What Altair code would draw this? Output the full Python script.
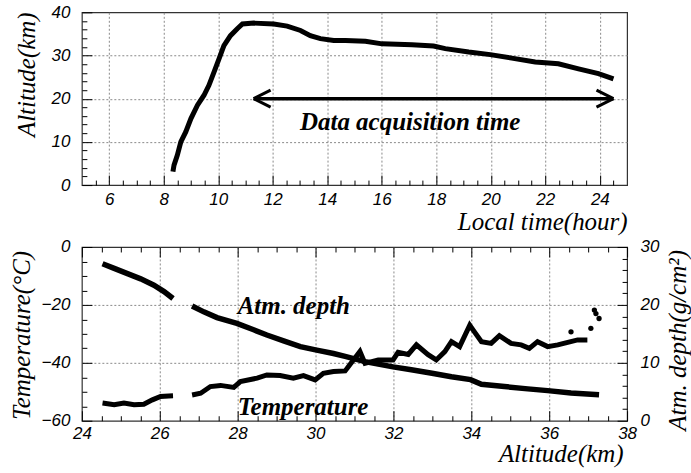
import altair as alt
import pandas as pd

# ---------------- data ----------------
# Upper panel: balloon altitude vs local time
time_hour = [8.34, 8.38, 8.50, 8.63, 8.81, 9.00, 9.24, 9.48, 9.66, 9.85, 10.03, 10.21,
             10.45, 10.70, 10.89, 11.31, 12.04, 12.53, 13.02, 13.38, 13.75, 14.24, 14.67,
             15.40, 16.01, 17.11, 17.90, 18.33, 19.19, 19.98, 20.77, 21.63, 22.48, 23.22,
             23.95, 24.50]
altitude_km = [3.1, 4.6, 6.9, 10.0, 12.3, 15.4, 18.5, 20.8, 23.1, 26.2, 29.2, 32.3,
               34.6, 36.2, 37.3, 37.5, 37.3, 36.8, 35.8, 34.6, 33.9, 33.5, 33.5,
               33.3, 32.7, 32.5, 32.2, 31.6, 30.8, 30.2, 29.4, 28.5, 28.1, 26.9,
               25.8, 24.6]

# Lower panel: atmospheric depth vs altitude
depth_altitude = [24.53, 24.83, 25.17, 25.51, 25.85, 26.11, 26.34,
                  26.83, 27.13, 27.47, 27.98, 28.41, 28.75, 29.18, 29.61, 30.03, 30.46,
                  30.76, 31.27, 31.99, 32.46, 32.99, 33.49, 33.98, 34.26, 34.85, 35.45,
                  35.96, 36.56, 37.28]
depth_gcm2 = [27.1, 26.3, 25.4, 24.5, 23.4, 22.3, 21.1,
              19.8, 18.8, 17.8, 16.8, 15.7, 14.8, 13.8, 12.8, 12.2, 11.6,
              11.1, 10.2, 9.3, 8.8, 8.2, 7.6, 7.1, 6.3, 5.9, 5.5,
              5.2, 4.8, 4.5]
depth_segment = [1, 1, 1, 1, 1, 1, 1,
                 2, 2, 2, 2, 2, 2, 2, 2, 2, 2,
                 2, 2, 2, 2, 2, 2, 2, 2, 2, 2,
                 2, 2, 2]

# Lower panel: temperature vs altitude (continuous parts)
temp_altitude = [24.53, 24.83, 25.08, 25.34, 25.59, 25.81, 26.02, 26.34,
                 26.83, 27.05, 27.30, 27.56, 27.90, 28.07, 28.50, 28.75, 29.09, 29.43,
                 29.69, 29.99, 30.20, 30.46, 30.76, 30.88, 31.14, 31.27, 31.61, 31.99,
                 32.12, 32.38, 32.59, 32.89, 33.10, 33.32, 33.49, 33.70, 33.96, 34.08,
                 34.26, 34.51, 34.72, 35.02, 35.28, 35.49, 35.70, 35.96, 36.22, 36.45,
                 36.73, 36.98]
temp_celsius = [-53.9, -54.5, -53.9, -54.5, -54.3, -52.8, -51.6, -51.4,
                -51.1, -50.5, -48.2, -47.8, -48.5, -46.5, -45.3, -44.2, -44.4, -45.3,
                -44.4, -45.9, -43.6, -43.0, -42.8, -40.7, -36.1, -40.2, -39.0, -39.0,
                -36.4, -37.1, -33.8, -37.2, -39.0, -36.1, -32.7, -34.4, -27.0, -29.3,
                -32.7, -33.3, -30.6, -33.3, -33.8, -35.0, -32.7, -34.4, -33.8, -33.0,
                -32.1, -32.1]
temp_segment = [1, 1, 1, 1, 1, 1, 1, 1,
                2, 2, 2, 2, 2, 2, 2, 2, 2, 2,
                2, 2, 2, 2, 2, 2, 2, 2, 2, 2,
                2, 2, 2, 2, 2, 2, 2, 2, 2, 2,
                2, 2, 2, 2, 2, 2, 2, 2, 2, 2,
                2, 2]
# isolated temperature points near the top
temp_dot_altitude = [36.56, 37.07, 37.16, 37.20, 37.28]
temp_dot_celsius = [-29.3, -28.1, -21.8, -23.0, -24.7]

# Tick values
top_x_major = [6, 8, 10, 12, 14, 16, 18, 20, 22, 24]
top_x_minor = [5.5, 6.5, 7, 7.5, 8.5, 9, 9.5, 10.5, 11, 11.5, 12.5, 13, 13.5, 14.5, 15,
               15.5, 16.5, 17, 17.5, 18.5, 19, 19.5, 20.5, 21, 21.5, 22.5, 23, 23.5, 24.5]
top_y_major = [0, 10, 20, 30, 40]
top_y_minor = [2, 4, 6, 8, 12, 14, 16, 18, 22, 24, 26, 28, 32, 34, 36, 38]
top_x_grid = [6, 8, 10, 12, 14, 16, 18, 20, 22, 24]
top_y_grid = [10, 20, 30]

bot_x_major = [24, 26, 28, 30, 32, 34, 36, 38]
bot_x_minor = [24.5, 25, 25.5, 26.5, 27, 27.5, 28.5, 29, 29.5, 30.5, 31, 31.5, 32.5, 33,
               33.5, 34.5, 35, 35.5, 36.5, 37, 37.5]
bot_x_grid = [26, 28, 30, 32, 34, 36]
temp_major = [-60, -40, -20, 0]
temp_minor = [-55, -50, -45, -35, -30, -25, -15, -10, -5]
temp_grid = [-40, -20]
depth_major = [0, 10, 20, 30]
depth_minor = [2, 4, 6, 8, 12, 14, 16, 18, 22, 24, 26, 28]

# Annotations
arrow_start_hour = [11.3]
arrow_end_hour = [24.5]
arrow_alt = [20]
top_label_text = ["Data acquisition time"]
top_label_hour = [13.0]
top_label_alt = [12.8]
bot_label_text = ["Atm. depth", "Temperature"]
bot_label_altitude = [28.0, 28.0]
bot_label_temp = [-23.1, -57.9]

# ---------------- styling ----------------
LF = "Liberation Sans"
TF = "Liberation Serif"
W, H1, H2 = 546, 173, 174
GRID = "#8a8a8a"

label_style = dict(labelFont=LF, labelFontSize=17, labelFontStyle="italic",
                   labelColor="black", labelFlush=False, labelOverlap=False)
title_style = dict(titleFont=TF, titleFontSize=25, titleFontStyle="italic",
                   titleFontWeight="normal", titleColor="black")


def tick_axis(orient, values, size):
    return alt.Axis(orient=orient, values=values, tickSize=size, offset=-size,
                    labels=False, domain=False, grid=False, title=None, ticks=True,
                    tickColor="black", tickWidth=1)


def grid_axis(orient, values):
    return alt.Axis(orient=orient, values=values, ticks=False, labels=False,
                    domain=False, grid=True, title=None, gridColor=GRID,
                    gridDash=[2, 2], gridWidth=1)


# ---------------- upper panel ----------------
top_df = pd.DataFrame({"hour": time_hour, "alt": altitude_km})
xs_top = alt.Scale(domain=[5, 25], nice=False, zero=False)
ys_top = alt.Scale(domain=[0, 40], nice=False, zero=False)

top_grid = alt.Chart(top_df).mark_line(strokeOpacity=0).encode(
    x=alt.X("hour:Q", scale=xs_top, axis=grid_axis("bottom", top_x_grid)),
    y=alt.Y("alt:Q", scale=ys_top, axis=grid_axis("left", top_y_grid)),
)
top_minor = alt.Chart(top_df).mark_line(strokeOpacity=0).encode(
    x=alt.X("hour:Q", scale=xs_top, axis=tick_axis("bottom", top_x_minor, 5)),
    y=alt.Y("alt:Q", scale=ys_top, axis=tick_axis("left", top_y_minor, 5)),
)
top_line = alt.Chart(top_df).mark_line(color="black", strokeWidth=5).encode(
    x=alt.X("hour:Q", scale=xs_top, axis=alt.Axis(
        orient="bottom", values=top_x_major, tickSize=10, offset=-10, domain=False,
        grid=False, tickColor="black", labelPadding=6, **label_style,
        title="Local time(hour)", titleAlign="right", titleBaseline="alphabetic",
        titleX=W, titleY=54, **title_style)),
    y=alt.Y("alt:Q", scale=ys_top, axis=alt.Axis(
        orient="left", values=top_y_major, tickSize=10, offset=-10, domain=False,
        grid=False, tickColor="black", labelPadding=12, **label_style,
        title="Altitude(km)", titleAngle=270, titleAlign="center",
        titleBaseline="alphabetic", titleX=-57, titleY=62, **title_style)),
)
arrow_df = pd.DataFrame({"x1": arrow_start_hour, "x2": arrow_end_hour, "y": arrow_alt})
arrow_line = alt.Chart(arrow_df).mark_rule(color="black", strokeWidth=3.5).encode(
    x=alt.X("x1:Q", scale=xs_top, axis=None), x2="x2:Q",
    y=alt.Y("y:Q", scale=ys_top, axis=None),
)
head_left = alt.Chart(arrow_df).mark_point(
    shape="M0,0L1,-0.5M0,0L1,0.5", size=1156, filled=False, color="black",
    strokeWidth=3, opacity=1).encode(
    x=alt.X("x1:Q", scale=xs_top, axis=None), y=alt.Y("y:Q", scale=ys_top, axis=None))
head_right = alt.Chart(arrow_df).mark_point(
    shape="M0,0L-1,-0.5M0,0L-1,0.5", size=1156, filled=False, color="black",
    strokeWidth=3, opacity=1).encode(
    x=alt.X("x2:Q", scale=xs_top, axis=None), y=alt.Y("y:Q", scale=ys_top, axis=None))
top_text_df = pd.DataFrame({"x": top_label_hour, "y": top_label_alt, "t": top_label_text})
top_text = alt.Chart(top_text_df).mark_text(
    font=TF, fontSize=25, fontStyle="italic", fontWeight="bold", color="black",
    align="left", baseline="alphabetic").encode(
    x=alt.X("x:Q", scale=xs_top, axis=None), y=alt.Y("y:Q", scale=ys_top, axis=None),
    text="t:N")

top = alt.layer(top_grid, top_minor, top_line, arrow_line, head_left, head_right,
                top_text).resolve_axis(x="independent", y="independent").properties(
    width=W, height=H1)

# ---------------- lower panel ----------------
temp_df = pd.DataFrame({"a": temp_altitude, "T": temp_celsius, "seg": temp_segment})
dots_df = pd.DataFrame({"a": temp_dot_altitude, "T": temp_dot_celsius})
depth_df = pd.DataFrame({"a": depth_altitude, "d": depth_gcm2, "seg": depth_segment})
xs_bot = alt.Scale(domain=[24, 38], nice=False, zero=False)
ys_temp = alt.Scale(domain=[-60, 0], nice=False, zero=False)
ys_depth = alt.Scale(domain=[0, 30], nice=False, zero=False)

bot_grid = alt.Chart(temp_df).mark_line(strokeOpacity=0).encode(
    x=alt.X("a:Q", scale=xs_bot, axis=grid_axis("bottom", bot_x_grid)),
    y=alt.Y("T:Q", scale=ys_temp, axis=grid_axis("left", temp_grid)),
)
temp_minor = alt.Chart(temp_df).mark_line(strokeOpacity=0).encode(
    x=alt.X("a:Q", scale=xs_bot, axis=tick_axis("bottom", bot_x_minor, 5)),
    y=alt.Y("T:Q", scale=ys_temp, axis=tick_axis("left", temp_minor, 5)),
)
depth_minor_layer = alt.Chart(depth_df).mark_line(strokeOpacity=0).encode(
    x=alt.X("a:Q", scale=xs_bot, axis=tick_axis("top", bot_x_minor, 5)),
    y=alt.Y("d:Q", scale=ys_depth, axis=tick_axis("right", depth_minor, 5)),
)
temp_line = alt.Chart(temp_df).mark_line(color="black", strokeWidth=5).encode(
    x=alt.X("a:Q", scale=xs_bot, axis=alt.Axis(
        orient="bottom", values=bot_x_major, tickSize=10, offset=-10, domain=False,
        grid=False, tickColor="black", labelPadding=5, **label_style,
        title="Altitude(km)", titleAlign="right", titleBaseline="alphabetic",
        titleX=542, titleY=51, **title_style)),
    y=alt.Y("T:Q", scale=ys_temp, axis=alt.Axis(
        orient="left", values=temp_major, tickSize=10, offset=-10, domain=False,
        grid=False, tickColor="black", labelPadding=12, **label_style,
        title="Temperature(°C)", titleAngle=270, titleAlign="center",
        titleBaseline="alphabetic", titleX=-62, titleY=88, **title_style)),
    detail="seg:N",
)
temp_dots = alt.Chart(dots_df).mark_circle(color="black", size=28, opacity=1).encode(
    x=alt.X("a:Q", scale=xs_bot, axis=None),
    y=alt.Y("T:Q", scale=ys_temp, axis=None),
)
depth_line = alt.Chart(depth_df).mark_line(color="black", strokeWidth=5.5).encode(
    x=alt.X("a:Q", scale=xs_bot, axis=tick_axis("top", bot_x_major, 10)),
    y=alt.Y("d:Q", scale=ys_depth, axis=alt.Axis(
        orient="right", values=depth_major, tickSize=10, offset=-10, domain=False,
        grid=False, tickColor="black", labelPadding=13, **label_style,
        title="Atm. depth(g/cm²)", titleAngle=270, titleAlign="center",
        titleBaseline="alphabetic", titleX=68, titleY=93, **title_style)),
    detail="seg:N",
)
bot_text_df = pd.DataFrame({"x": bot_label_altitude, "y": bot_label_temp, "t": bot_label_text})
bot_text = alt.Chart(bot_text_df).mark_text(
    font=TF, fontSize=25, fontStyle="italic", fontWeight="bold", color="black",
    align="left", baseline="alphabetic").encode(
    x=alt.X("x:Q", scale=xs_bot, axis=None),
    y=alt.Y("y:Q", scale=ys_temp, axis=None),
    text="t:N")

bottom = alt.layer(bot_grid, temp_minor, depth_minor_layer, temp_line, temp_dots,
                   depth_line, bot_text).resolve_scale(y="independent").resolve_axis(
    x="independent", y="independent").properties(width=W, height=H2)

chart = alt.vconcat(top, bottom, spacing=2).properties(
    padding={"left": 9, "top": 2, "right": 0, "bottom": 2},
    background="white",
).configure_view(stroke="#333333", strokeWidth=1.2)

chart.save("out.html", embed_options={"renderer": "svg", "actions": False})
